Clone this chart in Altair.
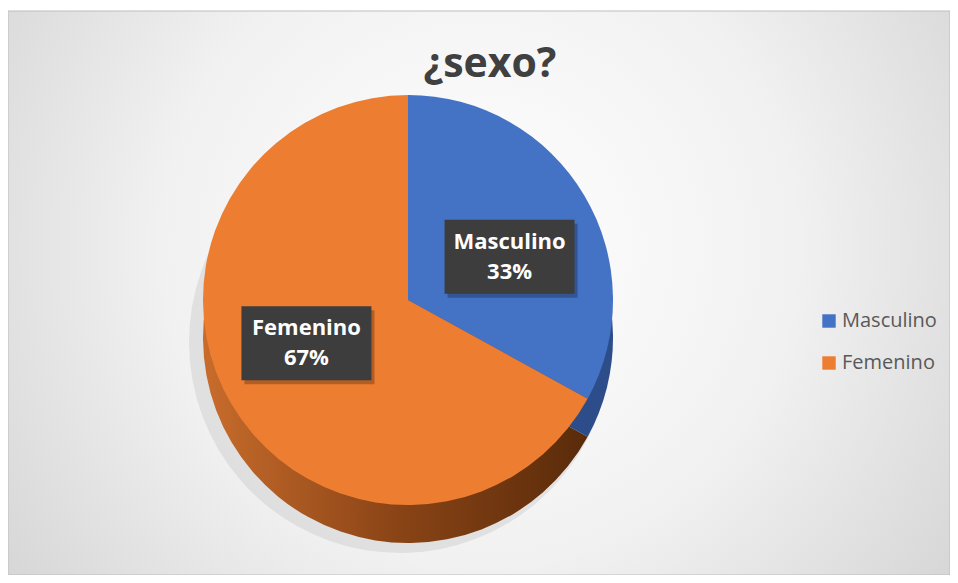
import altair as alt
import pandas as pd

# ---- data ----
CATEGORIES = ["Masculino", "Femenino"]
VALUES = [33, 67]
TOP_COLORS = ["#4472C4", "#ED7D31"]
TITLE = "¿sexo?"

# ---- layout / style ----
W, H = 942, 567
CX, CY = 400, 292
R = 205
DEPTH = 38
LX_R, LY_R = 118, 85
TOTAL = sum(VALUES)
FONT = "Open Sans"

df = pd.DataFrame({"category": CATEGORIES, "value": VALUES,
                   "order": list(range(len(CATEGORIES)))})

base = alt.Chart(df).transform_window(
    end="sum(value)", sort=[alt.SortField("order")], frame=[None, 0]
).transform_calculate(
    start="datum.end - datum.value",
    mid=f"(datum.end - datum.value / 2) / {TOTAL} * 2 * PI",
    pct=f"format(datum.value / {TOTAL}, '.0%')",
)

theta = alt.Theta("start:Q", scale=alt.Scale(domain=[0, TOTAL]), stack=None)
theta2 = alt.Theta2("end:Q")

# background panel with radial gradient
bg_grad = alt.RadialGradient(
    gradient="radial",
    stops=[alt.GradientStop(color="#ffffff", offset=0),
           alt.GradientStop(color="#f1f1f1", offset=0.45),
           alt.GradientStop(color="#c9c9c9", offset=1)],
    x1=0.5, y1=0.45, x2=0.5, y2=0.45, r1=0, r2=0.75,
)
bg = alt.Chart(pd.DataFrame({"bg": [0]})).mark_rect(
    fill=bg_grad, stroke="#bdbdbd", strokeWidth=1
).encode(x=alt.value(0), x2=alt.value(W), y=alt.value(3), y2=alt.value(H))

# soft shadow under the pie
shadow = base.mark_arc(radius=R + 6, fill="#000000", opacity=0.07).encode(
    theta=theta, theta2=theta2, x=alt.value(CX - 8), y=alt.value(CY + DEPTH + 4))

# 3D side (depth) of the pie
side_grad = alt.LinearGradient(
    gradient="linear",
    stops=[alt.GradientStop(color="#c86c2c", offset=0),
           alt.GradientStop(color="#8a4416", offset=0.5),
           alt.GradientStop(color="#5a2b0a", offset=1)],
    x1=0, y1=0, x2=1, y2=0,
)
side_f = base.transform_filter(alt.datum.category == "Femenino").mark_arc(
    radius=R, fill=side_grad
).encode(theta=theta, theta2=theta2, x=alt.value(CX), y=alt.value(CY + DEPTH))
side_m = base.transform_filter(alt.datum.category == "Masculino").mark_arc(
    radius=R, fill="#2c4d8a"
).encode(theta=theta, theta2=theta2, x=alt.value(CX), y=alt.value(CY + DEPTH))

# top face of the pie
pie = base.mark_arc(radius=R).encode(
    theta=theta, theta2=theta2,
    color=alt.Color("category:N",
                    scale=alt.Scale(domain=CATEGORIES, range=TOP_COLORS),
                    legend=alt.Legend(title=None, orient="none", legendX=811, legendY=303,
                                      symbolType="square", symbolSize=180,
                                      symbolStrokeWidth=0,
                                      labelFont=FONT, labelFontSize=20,
                                      labelColor="#595959", rowPadding=22,
                                      labelOffset=3)),
    x=alt.value(CX), y=alt.value(CY),
)

# data labels
xs = alt.Scale(domain=[-CX, W - CX], nice=False, zero=False)
ys = alt.Scale(domain=[CY - H, CY], nice=False, zero=False)
lab = base.transform_calculate(
    lx=f"sin(datum.mid) * {LX_R}",
    ly=f"cos(datum.mid) * {LY_R}",
    label="datum.category + '\\n' + datum.pct",
)
enc = dict(x=alt.X("lx:Q", scale=xs, axis=None), y=alt.Y("ly:Q", scale=ys, axis=None))
box_shadow = lab.mark_rect(width=130, height=74, color="#000000", opacity=0.25,
                           xOffset=3, yOffset=4).encode(**enc)
box = lab.mark_rect(width=130, height=74, color="#3d3d3d").encode(**enc)
text = lab.mark_text(color="white", font=FONT, fontWeight="bold", fontSize=22,
                     lineBreak="\n", lineHeight=30, align="center",
                     baseline="middle", dy=-15).encode(text="label:N", **enc)

chart = alt.layer(bg, shadow, side_f, side_m, pie, box_shadow, box, text).properties(
    width=W, height=H, padding=0, background="white",
    autosize=alt.AutoSizeParams(type="none"),
    title=alt.TitleParams(TITLE, font=FONT, fontSize=41, fontWeight="bold",
                          color="#404040", orient="top", anchor="middle",
                          frame="group", offset=-110, baseline="alphabetic", dx=11),
).configure_view(strokeWidth=0)

chart.save("out.html", embed_options={"renderer": "svg", "actions": False})
